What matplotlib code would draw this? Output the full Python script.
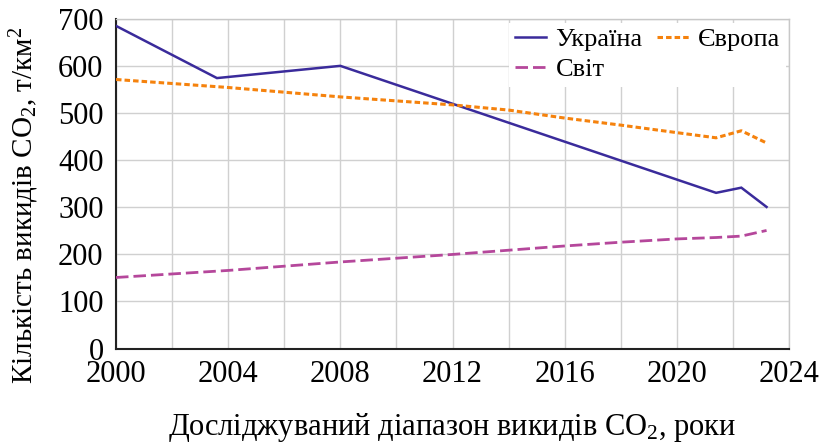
import matplotlib
matplotlib.use("Agg")
import matplotlib.pyplot as plt
import numpy as np

plt.rcParams['font.family'] = 'serif'
plt.rcParams['font.serif'] = ['Liberation Serif', 'DejaVu Serif']
plt.rcParams['mathtext.fontset'] = 'custom'
plt.rcParams['mathtext.rm'] = 'Liberation Serif'
plt.rcParams['mathtext.it'] = 'Liberation Serif:italic'

# Data
ukraine_years = [2000, 2003.6, 2008, 2021.4, 2022.3, 2023.2]
ukraine_vals = [686, 575, 601, 331, 342, 301]

europe_years = [2000, 2004, 2008, 2012, 2014, 2016, 2018, 2020, 2021.4, 2022.3, 2023.2]
europe_vals = [572, 555, 535, 518, 507, 490, 475, 459, 448, 463, 437]

world_years = [2000, 2004, 2008, 2012, 2016, 2018, 2020, 2021.4, 2022.3, 2023.2]
world_vals = [151, 166, 184, 200, 218, 226, 233, 236, 239, 251]

series_labels = ['Україна', 'Європа', 'Світ']
x_ticks = [2000, 2004, 2008, 2012, 2016, 2020, 2024]
y_ticks = [0, 100, 200, 300, 400, 500, 600, 700]

fig = plt.figure(figsize=(8.22, 4.43), dpi=100)
ax = fig.add_axes([116/822, 1 - 348.5/443, (789-116)/822, (348.5-19.3)/443])

l_ua, = ax.plot(ukraine_years, ukraine_vals, color='#3a2b9b', lw=1.8,
                solid_joinstyle='miter', zorder=3, label=series_labels[0])
l_eu, = ax.plot(europe_years, europe_vals, color='#f5820d', lw=2.2,
                dashes=(1.8, 1.0), zorder=3, label=series_labels[1])
l_w, = ax.plot(world_years, world_vals, color='#b5479b', lw=2.0,
               dashes=(4.5, 1.8), zorder=3, label=series_labels[2])

ax.set_xlim(2000, 2024)
ax.set_ylim(0, 700)
ax.set_xticks(x_ticks)
ax.set_xticks(np.arange(2000, 2025, 2), minor=True)
ax.set_yticks(y_ticks)
ax.grid(True, which='both', color='#d0d0d0', lw=1.0, zorder=0)
ax.set_axisbelow(True)

ax.tick_params(axis='both', which='both', length=0, labelsize=22)
ax.tick_params(axis='x', pad=8)
ax.tick_params(axis='y', pad=9)

for s in ['top', 'right']:
    ax.spines[s].set_color('#c8c8c8')
    ax.spines[s].set_linewidth(1.0)
for s in ['left', 'bottom']:
    ax.spines[s].set_color('#222222')
    ax.spines[s].set_linewidth(1.5)

ax.set_ylabel('Кількість викидів CO$_2$, т/км$^2$', fontsize=21)
ax.yaxis.set_label_coords(-0.112, 0.436)
ax.set_xlabel('Досліджуваний діапазон викидів CO$_2$, роки', fontsize=22, labelpad=16)

leg = ax.legend([l_ua, l_w, l_eu], [series_labels[0], series_labels[2], series_labels[1]],
                ncol=2, loc='upper right', bbox_to_anchor=(0.995, 0.99),
                fontsize=19, handlelength=1.2, handletextpad=0.35,
                columnspacing=0.55, labelspacing=0.25, borderpad=0.2,
                borderaxespad=0, frameon=True, fancybox=False)
leg.get_frame().set_facecolor('white')
leg.get_frame().set_edgecolor('none')
leg.get_frame().set_alpha(1.0)

fig.savefig('out.png', dpi=100)
